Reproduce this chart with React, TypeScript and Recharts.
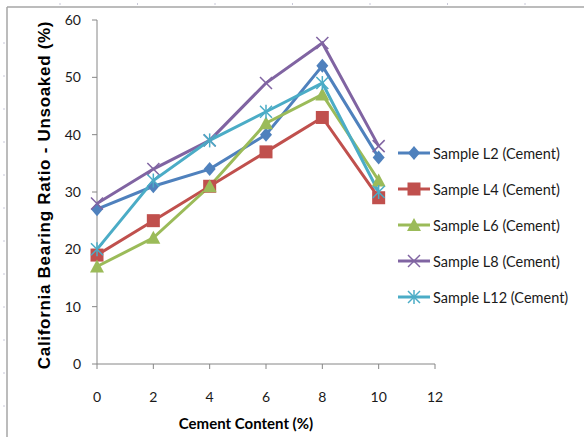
import React from 'react';
import { LineChart, Line, XAxis, YAxis, Legend } from 'recharts';

const cementContent = [0, 2, 4, 6, 8, 10];
const sampleL2 = [27, 31, 34, 40, 52, 36];
const sampleL4 = [19, 25, 31, 37, 43, 29];
const sampleL6 = [17, 22, 31, 42, 47, 32];
const sampleL8 = [28, 34, 39, 49, 56, 38];
const sampleL12 = [20, 32, 39, 44, 49, 30];
const xTicks = [0, 2, 4, 6, 8, 10, 12];
const yTicks = [0, 10, 20, 30, 40, 50, 60];

type MarkerKind = 'diamond' | 'square' | 'triangle' | 'cross' | 'star';

const series: { key: string; name: string; color: string; marker: MarkerKind; values: number[] }[] = [
  { key: 'l2', name: 'Sample L2 (Cement)', color: '#4F81BD', marker: 'diamond', values: sampleL2 },
  { key: 'l4', name: 'Sample L4 (Cement)', color: '#C0504D', marker: 'square', values: sampleL4 },
  { key: 'l6', name: 'Sample L6 (Cement)', color: '#9BBB59', marker: 'triangle', values: sampleL6 },
  { key: 'l8', name: 'Sample L8 (Cement)', color: '#8064A2', marker: 'cross', values: sampleL8 },
  { key: 'l12', name: 'Sample L12 (Cement)', color: '#4BACC6', marker: 'star', values: sampleL12 },
];

const data = cementContent.map((x, i) => {
  const row: Record<string, number> = { x };
  series.forEach((s) => {
    row[s.key] = s.values[i];
  });
  return row;
});

function Marker({ kind, cx, cy, color }: { kind: MarkerKind; cx: number; cy: number; color: string }) {
  switch (kind) {
    case 'diamond':
      return <polygon points={`${cx},${cy - 7} ${cx + 6},${cy} ${cx},${cy + 7} ${cx - 6},${cy}`} fill={color} />;
    case 'square':
      return <rect x={cx - 6.5} y={cy - 6.5} width={13} height={13} fill={color} />;
    case 'triangle':
      return <polygon points={`${cx},${cy - 7} ${cx + 7},${cy + 6} ${cx - 7},${cy + 6}`} fill={color} />;
    case 'cross':
      return (
        <g stroke={color} strokeWidth={1.5}>
          <line x1={cx - 6} y1={cy - 6} x2={cx + 6} y2={cy + 6} />
          <line x1={cx - 6} y1={cy + 6} x2={cx + 6} y2={cy - 6} />
        </g>
      );
    case 'star':
      return (
        <g stroke={color} strokeWidth={1.5}>
          <line x1={cx - 6} y1={cy - 6} x2={cx + 6} y2={cy + 6} />
          <line x1={cx - 6} y1={cy + 6} x2={cx + 6} y2={cy - 6} />
          <line x1={cx} y1={cy - 7} x2={cx} y2={cy + 7} />
        </g>
      );
  }
}

const tickStyle = { fontFamily: 'Lato, sans-serif', fontSize: 14, fill: '#1a1a1a' };

function LegendBox() {
  return (
    <div style={{ fontFamily: 'Lato, sans-serif', fontSize: 14.5, color: '#1a1a1a' }}>
      {series.map((s) => (
        <div key={s.key} style={{ display: 'flex', alignItems: 'center', height: 36 }}>
          <svg width={35} height={16} style={{ display: 'block' }}>
            <line x1={0} y1={8} x2={32} y2={8} stroke={s.color} strokeWidth={3} />
            <Marker kind={s.marker} cx={16} cy={8} color={s.color} />
          </svg>
          <span style={{ whiteSpace: 'nowrap' }}>{s.name}</span>
        </div>
      ))}
    </div>
  );
}

// page frame lines and ruler ticks around the chart
function Frame() {
  const leftTicks = Array.from({ length: 12 }, (_, i) => 43 + i * 33);
  const topTicks = Array.from({ length: 7 }, (_, i) => 60 + i * 77.5);
  return (
    <svg width={584} height={437} style={{ position: 'absolute', left: 0, top: 0 }}>
      <line x1={7} y1={7} x2={584} y2={7} stroke="#a6a6a6" strokeWidth={1.5} />
      <line x1={7} y1={7} x2={7} y2={437} stroke="#a6a6a6" strokeWidth={1.5} />
      {leftTicks.map((y) => (
        <line key={`l${y}`} x1={3} y1={y} x2={5} y2={y} stroke="#c8c8d8" strokeWidth={1} />
      ))}
      {topTicks.map((x) => (
        <line key={`t${x}`} x1={x} y1={3} x2={x} y2={5} stroke="#c8c8d8" strokeWidth={1} />
      ))}
    </svg>
  );
}

export default function App() {
  return (
    <div style={{ position: 'fixed', left: 0, top: 0, width: 584, height: 437, background: '#fff' }}>
      <Frame />
      <div style={{ position: 'absolute', left: 0, top: 0 }}>
        <LineChart width={584} height={437} data={data} margin={{ top: 20, right: 149, bottom: 43, left: 37 }}>
          <XAxis
            dataKey="x"
            type="number"
            domain={[0, 12]}
            ticks={xTicks}
            stroke="#868686"
            tickSize={5}
            tickMargin={23}
            tick={tickStyle}
            height={30}
            label={{
              value: 'Cement Content (%)',
              position: 'insideBottom',
              dy: 40,
              dx: -20,
              style: { fontFamily: 'Lato, sans-serif', fontSize: 15, fontWeight: 700, fill: '#000' },
            }}
          />
          <YAxis
            type="number"
            domain={[0, 60]}
            ticks={yTicks}
            stroke="#868686"
            tickSize={5}
            tickMargin={11}
            tick={tickStyle}
            width={60}
            label={{
              value: 'California Bearing Ratio - Unsoaked (%)',
              angle: -90,
              position: 'insideLeft',
              dx: 2,
              dy: 3,
              style: {
                textAnchor: 'middle',
                fontFamily: '"Liberation Sans", Arial, sans-serif',
                fontSize: 17,
                fontWeight: 700,
                letterSpacing: 0.7,
                fill: '#000',
              },
            }}
          />
          {series.map((s) => (
            <Line
              key={s.key}
              dataKey={s.key}
              name={s.name}
              stroke={s.color}
              strokeWidth={3}
              isAnimationActive={false}
              dot={(p: any) => <Marker key={`${s.key}-${p.index}`} kind={s.marker} cx={p.cx} cy={p.cy} color={s.color} />}
              activeDot={false}
            />
          ))}
          <Legend
            layout="vertical"
            align="center"
            verticalAlign="middle"
            content={() => <LegendBox />}
            wrapperStyle={{ left: 398, top: 135, width: 186, height: 180 }}
          />
        </LineChart>
      </div>
    </div>
  );
}
